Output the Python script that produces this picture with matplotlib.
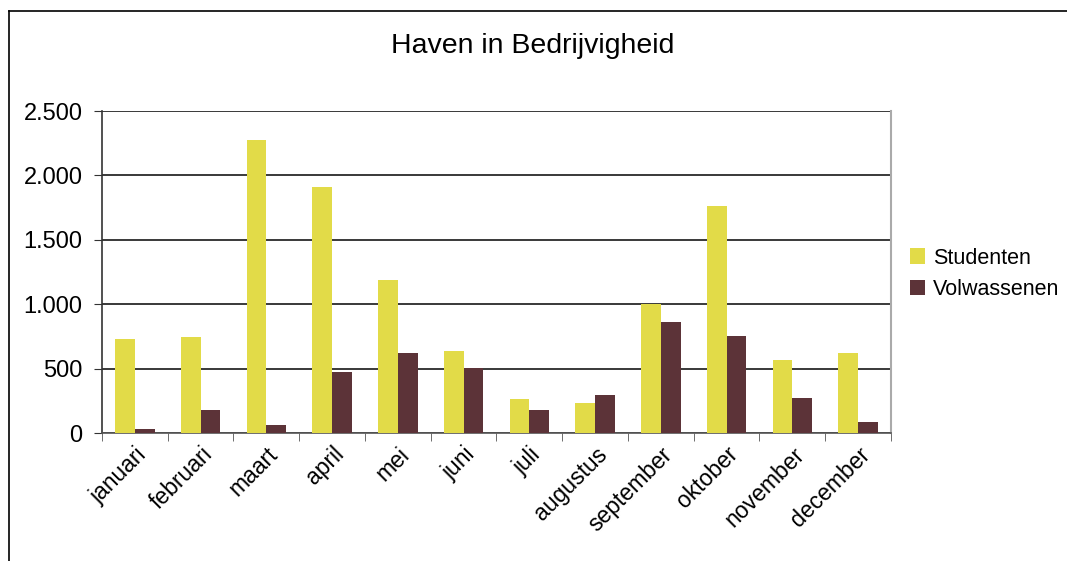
import numpy as np
import matplotlib.pyplot as plt
from matplotlib.ticker import FuncFormatter
from matplotlib.lines import Line2D

plt.rcParams['font.family'] = ['Liberation Sans', 'DejaVu Sans']

maanden = ['januari', 'februari', 'maart', 'april', 'mei', 'juni', 'juli',
           'augustus', 'september', 'oktober', 'november', 'december']
studenten = [728, 743, 2275, 1909, 1187, 635, 262, 231, 1003, 1762, 565, 619]
volwassenen = [28, 176, 60, 472, 619, 503, 176, 293, 860, 751, 269, 83]

fig = plt.figure(figsize=(10.67, 5.61), dpi=100)
ax = fig.add_axes([102 / 1067, 1 - 433 / 561, 789 / 1067, 322 / 561])

# chart area border: only top and left edges are visible in the picture
top = 1 - 11 / 561
left = 9 / 1067
fig.lines.append(Line2D([left, 1], [top, top], transform=fig.transFigure,
                        color='black', linewidth=1.2))
fig.lines.append(Line2D([left, left], [0, top], transform=fig.transFigure,
                        color='black', linewidth=1.2))

x = np.arange(len(maanden))
w = 0.3
ax.bar(x - w / 2, studenten, w, color='#E2DB48', label='Studenten', zorder=3)
ax.bar(x + w / 2, volwassenen, w, color='#5C3338', label='Volwassenen', zorder=3)

ax.set_xlim(-0.5, len(maanden) - 0.5)
ax.set_ylim(0, 2500)
ax.set_yticks(np.arange(0, 2501, 500))
ax.yaxis.set_major_formatter(FuncFormatter(lambda v, p: f'{int(v):,}'.replace(',', '.')))
ax.grid(axis='y', color='#2a2a2a', linewidth=1.3, zorder=0)

ax.set_xticks(x)
ax.set_xticklabels(maanden, rotation=45, ha='right', rotation_mode='anchor')
ax.set_xticks(np.arange(-0.5, len(maanden)), minor=True)
ax.tick_params(axis='x', which='major', length=0, labelsize=16.5, pad=7)
ax.tick_params(axis='x', which='minor', length=6, color='#555555', direction='out')
ax.tick_params(axis='y', length=6, labelsize=17, color='#333333', pad=8)

ax.spines['top'].set_visible(False)
ax.spines['right'].set_color('#aaaaaa')
ax.spines['right'].set_linewidth(1.5)
ax.spines['left'].set_color('#333333')
ax.spines['left'].set_linewidth(1.2)
ax.spines['bottom'].set_color('#555555')
ax.spines['bottom'].set_linewidth(1.2)

fig.text(533 / 1067, 1 - 46 / 561, 'Haven in Bedrijvigheid', ha='center', va='center', fontsize=20.5)

ax.legend(loc='center left', bbox_to_anchor=(1.0, 0.494), frameon=False,
          fontsize=15.5, handlelength=0.7, handleheight=0.7, handletextpad=0.35,
          labelspacing=0.5)

fig.savefig('out.png', dpi=100)
